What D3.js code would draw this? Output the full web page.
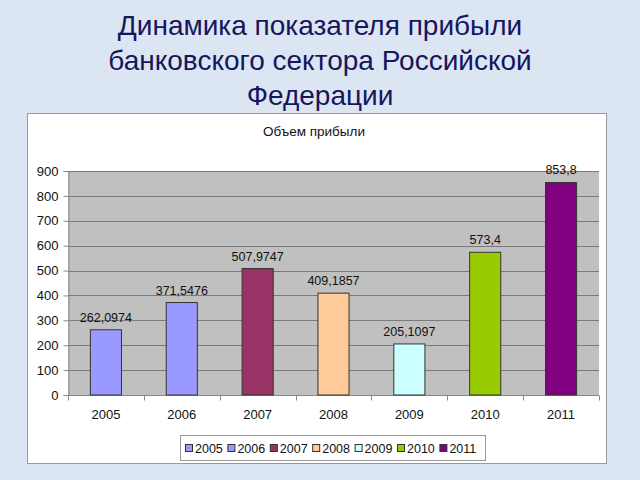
<!DOCTYPE html>
<html><head><meta charset="utf-8">
<script src="https://cdn.jsdelivr.net/npm/d3@7"></script>
<style>
html,body{margin:0;padding:0;background:#dce6f2;}
svg{display:block;}
</style></head>
<body>
<svg id="chart" width="640" height="480"></svg>
<script>
const years = ["2005","2006","2007","2008","2009","2010","2011"];
const profit = [262.0974, 371.5476, 507.9747, 409.1857, 205.1097, 573.4, 853.8];
const labels = ["262,0974","371,5476","507,9747","409,1857","205,1097","573,4","853,8"];
const colors = ["#9999ff","#9999ff","#993366","#ffcc99","#ccffff","#99cc00","#800080"];
const yTicks = [0,100,200,300,400,500,600,700,800,900];
const titleLines = ["Динамика показателя прибыли","банковского сектора Российской","Федерации"];
const chartTitle = "Объем прибыли";

const svg = d3.select("#chart");
const font = "Liberation Sans, Arial, sans-serif";

// page title
svg.selectAll("text.title").data(titleLines).join("text")
  .attr("class","title")
  .attr("x",320).attr("y",(d,i)=>35+i*35)
  .attr("text-anchor","middle")
  .attr("font-family",font).attr("font-size",28)
  .attr("fill","#16165e")
  .text(d=>d);

// panel
svg.append("rect").attr("x",27.5).attr("y",113.5).attr("width",579).attr("height",350)
  .attr("fill","#ffffff").attr("stroke","#9a9aa6").attr("stroke-width",1);

svg.append("text").attr("x",314).attr("y",136).attr("text-anchor","middle")
  .attr("font-family",font).attr("font-size",13.5).attr("fill","#111")
  .text(chartTitle);

const L=68, R=599, T=171, B=395;
const x = d3.scaleBand().domain(years).range([L,R]).paddingInner(0.59).paddingOuter(0.295);
const xb = d3.scaleBand().domain(years).range([L,R]);
const y = d3.scaleLinear().domain([0,900]).range([B,T]);

svg.append("rect").attr("x",L).attr("y",T).attr("width",R-L).attr("height",B-T).attr("fill","#c0c0c0");

// grid
svg.append("g").selectAll("line").data(yTicks.slice(1)).join("line")
  .attr("x1",L).attr("x2",R).attr("y1",d=>Math.round(y(d))+0.5).attr("y2",d=>Math.round(y(d))+0.5)
  .attr("stroke","#7a7a7a").attr("stroke-width",1);

// y axis
const yAxis = svg.append("g").attr("transform",`translate(${L+0.5},0)`)
  .call(d3.axisLeft(y).tickValues(yTicks).tickSize(5).tickPadding(5));
yAxis.select(".domain").attr("stroke","#888");
yAxis.selectAll(".tick line").attr("stroke","#888");
yAxis.selectAll("text").attr("font-family",font).attr("font-size",13).attr("fill","#111");

// x axis
const xg = svg.append("g").attr("transform",`translate(0,${B+0.5})`);
xg.append("line").attr("x1",L).attr("x2",R).attr("stroke","#888");
xg.selectAll("line.t").data(years.concat(["end"])).join("line").attr("class","t")
  .attr("x1",(d,i)=>Math.round(L+i*xb.step())+0.5).attr("x2",(d,i)=>Math.round(L+i*xb.step())+0.5)
  .attr("y1",0).attr("y2",5).attr("stroke","#888");
xg.selectAll("text").data(years).join("text")
  .attr("x",d=>xb(d)+xb.bandwidth()/2).attr("y",23)
  .attr("text-anchor","middle").attr("font-family",font).attr("font-size",13).attr("fill","#111")
  .text(d=>d);

// bars
svg.append("g").selectAll("rect").data(profit).join("rect")
  .attr("x",(d,i)=>x(years[i])).attr("width",x.bandwidth())
  .attr("y",d=>y(d)).attr("height",d=>B-y(d))
  .attr("fill",(d,i)=>colors[i]).attr("stroke","#333").attr("stroke-width",1);

// data labels
svg.append("g").selectAll("text").data(profit).join("text")
  .attr("x",(d,i)=>x(years[i])+x.bandwidth()/2).attr("y",d=>y(d)-8)
  .attr("text-anchor","middle").attr("font-family",font).attr("font-size",12.5).attr("fill","#111")
  .text((d,i)=>labels[i]);

// legend
const lg = svg.append("g");
lg.append("rect").attr("x",180.5).attr("y",435.5).attr("width",305).attr("height",25)
  .attr("fill","#fff").attr("stroke","#999");
const itemW = 42.4;
const items = lg.selectAll("g.item").data(years).join("g").attr("class","item")
  .attr("transform",(d,i)=>`translate(${185+i*itemW},448)`);
items.append("rect").attr("x",0.5).attr("y",-3.5).attr("width",7).attr("height",7)
  .attr("fill",(d,i)=>colors[i]).attr("stroke","#333");
items.append("text").attr("x",10).attr("y",4.5).attr("font-family",font).attr("font-size",12.5).attr("fill","#111")
  .text(d=>d);
</script>
</body></html>
